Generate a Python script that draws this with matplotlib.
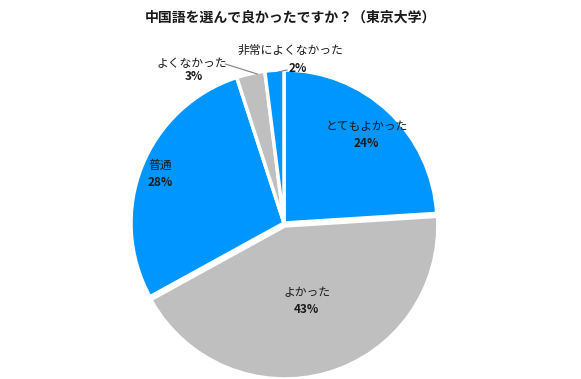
import numpy as np
import matplotlib.pyplot as plt

plt.rcParams['font.family'] = ['Noto Sans CJK JP', 'DejaVu Sans']

labels = ['とてもよかった', 'よかった', '普通', 'よくなかった', '非常によくなかった']
values = [24, 43, 28, 3, 2]
colors = ['#0096FF', '#BFBFBF', '#0096FF', '#BFBFBF', '#0096FF']
explode = [0, 0.02, 0, 0, 0]

fig = plt.figure(figsize=(5.81, 3.79), dpi=100)
cx, cy, r = 284, 223, 153
ax = fig.add_axes([(cx - r) / 581, (379 - cy - r) / 379, 2 * r / 581, 2 * r / 379])

wedges, _ = ax.pie(values, colors=colors, startangle=90, counterclock=False,
                   explode=explode,
                   wedgeprops=dict(edgecolor='white', linewidth=2.5))
ax.set_xlim(-1, 1)
ax.set_ylim(-1, 1)
ax.set_aspect('auto')
ax.axis('off')

txt = '#1a1a1a'
fs = 8.5

# labels inside the big slices
inside = {0: 0.79, 1: 0.53, 2: 0.87}
for i, d in inside.items():
    w = wedges[i]
    ang = np.deg2rad((w.theta1 + w.theta2) / 2)
    x, y = d * np.cos(ang), d * np.sin(ang)
    ax.text(x, y + 0.055, labels[i], ha='center', va='center', fontsize=fs, color=txt)
    ax.text(x, y - 0.055, f'{values[i]}%', ha='center', va='center', fontsize=fs,
            fontweight='bold', color=txt)

# small slices: labels outside with leader lines
ax.plot([-0.175, -0.383], [0.974, 1.039], color='#808080', lw=0.8, clip_on=False)
ax.text(-0.37, 1.045, labels[3], ha='right', va='center', fontsize=fs, color=txt)
ax.text(-0.59, 0.955, f'{values[3]}%', ha='center', va='center', fontsize=fs,
        fontweight='bold', color=txt)

ax.plot([-0.039, 0.02], [0.987, 1.0], color='#808080', lw=0.8, clip_on=False)
ax.text(0.045, 1.13, labels[4], ha='center', va='center', fontsize=fs, color=txt)
ax.text(0.09, 1.013, f'{values[4]}%', ha='center', va='center', fontsize=fs,
        fontweight='bold', color=txt)

fig.text(290 / 581, 1 - 18 / 379, '中国語を選んで良かったですか？（東京大学）',
         ha='center', va='center', fontsize=10, fontweight='bold', color=txt)

fig.savefig('out.png', dpi=100)
